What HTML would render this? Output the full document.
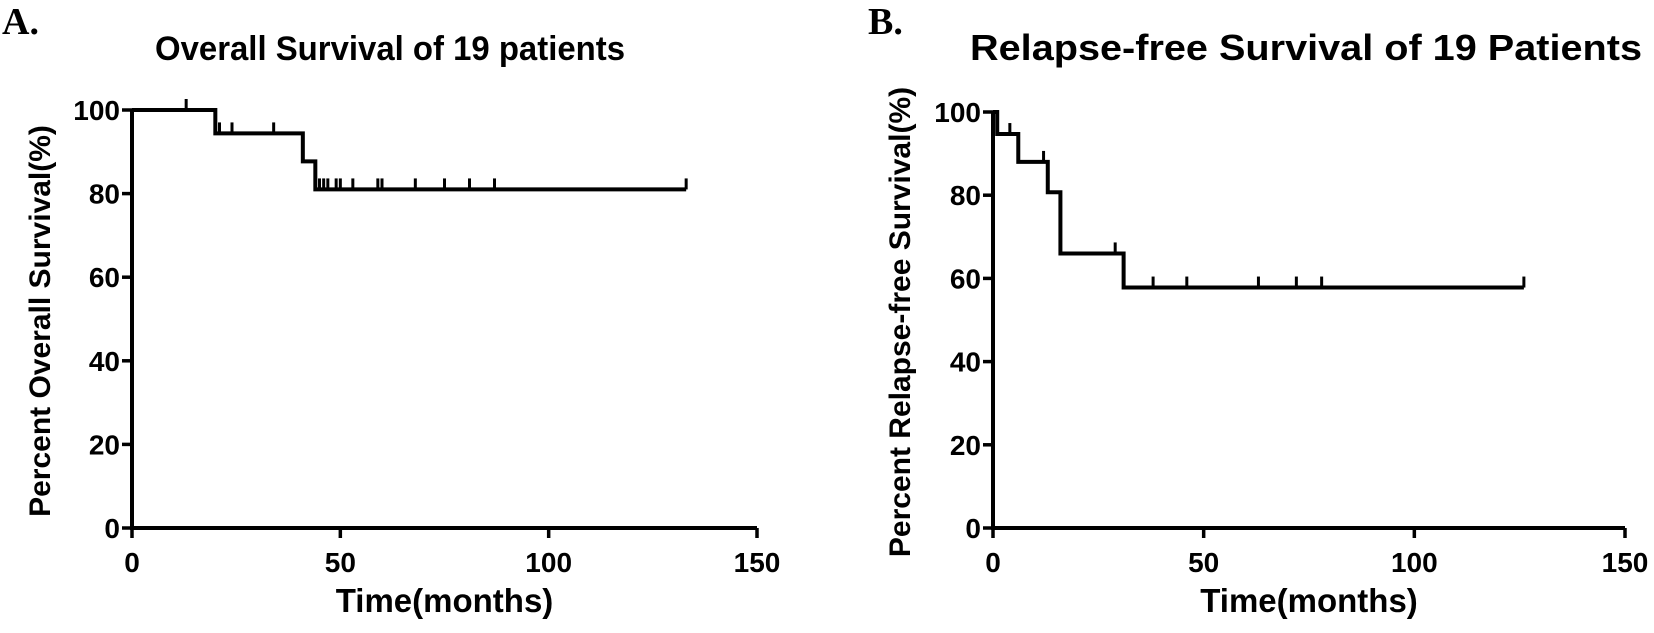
<!DOCTYPE html>
<html><head><meta charset="utf-8"><style>
body{margin:0;background:#fff;width:1654px;height:628px;overflow:hidden}
svg text{font-family:"Liberation Sans",Arial,sans-serif;font-weight:bold;fill:#000}
</style></head><body>
<svg id="chart" width="1654" height="628" xmlns="http://www.w3.org/2000/svg"></svg>
<script>
const xTicks=[0,50,100,150];
const yTicks=[0,20,40,60,80,100];
const aTimes=[0,20,41,44,133];
const aSurv=[100,94.4,87.7,81,81];
const aCensor=[13,21,24,34,45,46,47,49,50,53,59,60,68,75,81,87,133];
const bTimes=[0,1,6,13,16,31,126];
const bSurv=[100,94.7,88,80.7,66,57.8,57.8];
const bCensor=[4,12,29,38,46,63,72,78,126];
const NS='http://www.w3.org/2000/svg';
const svg=document.getElementById('chart');
function mk(t,a,p){const e=document.createElementNS(NS,t);for(const k in a)e.setAttribute(k,a[k]);(p||svg).appendChild(e);return e;}
function panel(o){
 const g=mk('g',{});
 
 
 const X=v=>o.x0+(o.x1-o.x0)*v/150, Y=v=>o.y0+(o.y1-o.y0)*v/100;
 const ax=mk('path',{d:`M${X(0)},${Y(100)}V${Y(0)}H${X(150)}`,stroke:'#000','stroke-width':4,fill:'none'},g);
 
 
 xTicks.forEach(v=>{
  mk('line',{x1:X(v),x2:X(v),y1:Y(0),y2:Y(0)+10,stroke:'#000','stroke-width':3.5},g);
  const t=mk('text',{x:X(v),y:Y(0)+44,'text-anchor':'middle','font-size':28},g);t.textContent=v;
  
  
 });
 yTicks.forEach(v=>{
  mk('line',{x1:X(0)-10,x2:X(0),y1:Y(v),y2:Y(v),stroke:'#000','stroke-width':3.5},g);
  const t=mk('text',{x:X(0)-12,y:Y(v)+10,'text-anchor':'end','font-size':28},g);t.textContent=v;
  
  
 });
 let d=`M${X(o.t[0])},${Y(o.s[0])}`;
 for(let i=1;i<o.t.length;i++){d+=`H${X(o.t[i])}V${Y(o.s[i])}`;}
 const c=mk('path',{d,stroke:'#000','stroke-width':4,fill:'none'},g);
 
 
 o.c.forEach(tm=>{
  let s=o.s[0];for(let i=0;i<o.t.length;i++){if(o.t[i]<=tm)s=o.s[i];}
  const m=mk('line',{x1:X(tm),x2:X(tm),y1:Y(s)-11,y2:Y(s),stroke:'#000','stroke-width':3},g);
  
  
 });
 const tt=mk('text',{x:o.tx,y:60,'font-size':o.tfs,textLength:o.tl,lengthAdjust:'spacingAndGlyphs'},g);tt.textContent=o.title;
 
 
 const xl=mk('text',{x:(X(0)+X(150))/2,y:612,'text-anchor':'middle','font-size':33},g);xl.textContent='Time(months)';
 
 
 const yl=mk('text',{x:0,y:0,'text-anchor':'middle','font-size':30,transform:`translate(${o.ylx},${(Y(0)+Y(100))/2+2}) rotate(-90)`},g);yl.textContent=o.ylab;
 
 
 const pl=mk('text',{x:o.lx,y:34,'font-size':38,style:'font-family:"Liberation Serif",serif'},g);pl.textContent=o.letter;
 
 
}
panel({id:'overall',x0:132,x1:757,y0:528,y1:110,t:aTimes,s:aSurv,c:aCensor,title:'Overall Survival of 19 patients',tx:155,tfs:34,tl:470,ylab:'Percent Overall Survival(%)',ylx:50,letter:'A.',lx:2});
panel({id:'relapse-free',x0:993,x1:1625,y0:528,y1:112,t:bTimes,s:bSurv,c:bCensor,title:'Relapse-free Survival of 19 Patients',tx:970,tfs:36,tl:672,ylab:'Percent Relapse-free Survival(%)',ylx:910,letter:'B.',lx:868});
</script>
</body></html>
